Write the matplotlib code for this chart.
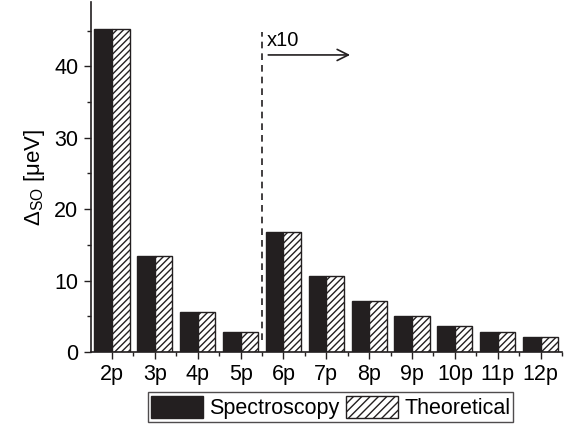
import numpy as np
import matplotlib.pyplot as plt
from matplotlib.patches import Patch

plt.rcParams['font.family'] = ['Liberation Sans', 'DejaVu Sans']
plt.rcParams['mathtext.fontset'] = 'custom'
plt.rcParams['mathtext.rm'] = 'Liberation Sans'
plt.rcParams['mathtext.it'] = 'Liberation Sans:italic'
plt.rcParams['hatch.linewidth'] = 1.0

states = ["2p", "3p", "4p", "5p", "6p", "7p", "8p", "9p", "10p", "11p", "12p"]
spectroscopy = [45.3, 13.4, 5.6, 2.85, 16.8, 10.6, 7.1, 5.0, 3.6, 2.75, 2.1]
theoretical = [45.2, 13.4, 5.6, 2.85, 16.8, 10.6, 7.1, 5.0, 3.65, 2.75, 2.1]

x = np.arange(len(states))
w = 0.41

fig = plt.figure(figsize=(5.7, 4.25), dpi=100)
ax = fig.add_axes([0.159, 0.172, 0.827, 0.823])

ax.bar(x - w/2, spectroscopy, w, color="#231f20", edgecolor="#231f20", linewidth=1.0)
ax.bar(x + w/2, theoretical, w, color="white", edgecolor="#231f20", hatch="/////", linewidth=1.0)

ax.set_xlim(-0.5, 10.5)
ax.set_ylim(0, 49)
ax.set_xticks(x)
ax.set_xticklabels(states)
ax.set_xticks(x + 0.5, minor=True)
ax.set_yticks([0, 10, 20, 30, 40])
ax.set_yticks([5, 15, 25, 35, 45], minor=True)
ax.tick_params(labelsize=15.5, direction="out", length=5, width=1, color="#231f20", pad=4)
ax.tick_params(which="minor", length=3, width=1, color="#231f20")
for s in ["top", "right"]:
    ax.spines[s].set_visible(False)
for s in ["left", "bottom"]:
    ax.spines[s].set_linewidth(1.2)
    ax.spines[s].set_color("#231f20")

ax.set_ylabel(r"Δ$_{\mathrm{SO}}$ [μeV]", fontsize=16, labelpad=5)

# x10 marker
ax.plot([3.5, 3.5], [1.7, 44.8], ls=(0, (4, 3)), color="#231f20", lw=1.2)
ax.text(3.62, 42.9, "x10", fontsize=14.5, va="baseline", ha="left")
ax.annotate("", xy=(5.62, 41.6), xytext=(3.58, 41.6),
            arrowprops=dict(arrowstyle="->", color="#231f20", lw=1.2, mutation_scale=20))

handles = [Patch(facecolor="#231f20", edgecolor="#231f20"),
           Patch(facecolor="white", edgecolor="#231f20", hatch="////")]
leg = fig.legend(handles, ["Spectroscopy", "Theoretical"], ncol=2, loc="center",
                 bbox_to_anchor=(0.58, 0.042), fontsize=15.5, fancybox=False,
                 edgecolor="#231f20", handlelength=2.4, handleheight=1.2,
                 handletextpad=0.3, columnspacing=0.3, borderpad=0.15, borderaxespad=0)
leg.get_frame().set_linewidth(1.0)

fig.savefig("out.png", dpi=100)
